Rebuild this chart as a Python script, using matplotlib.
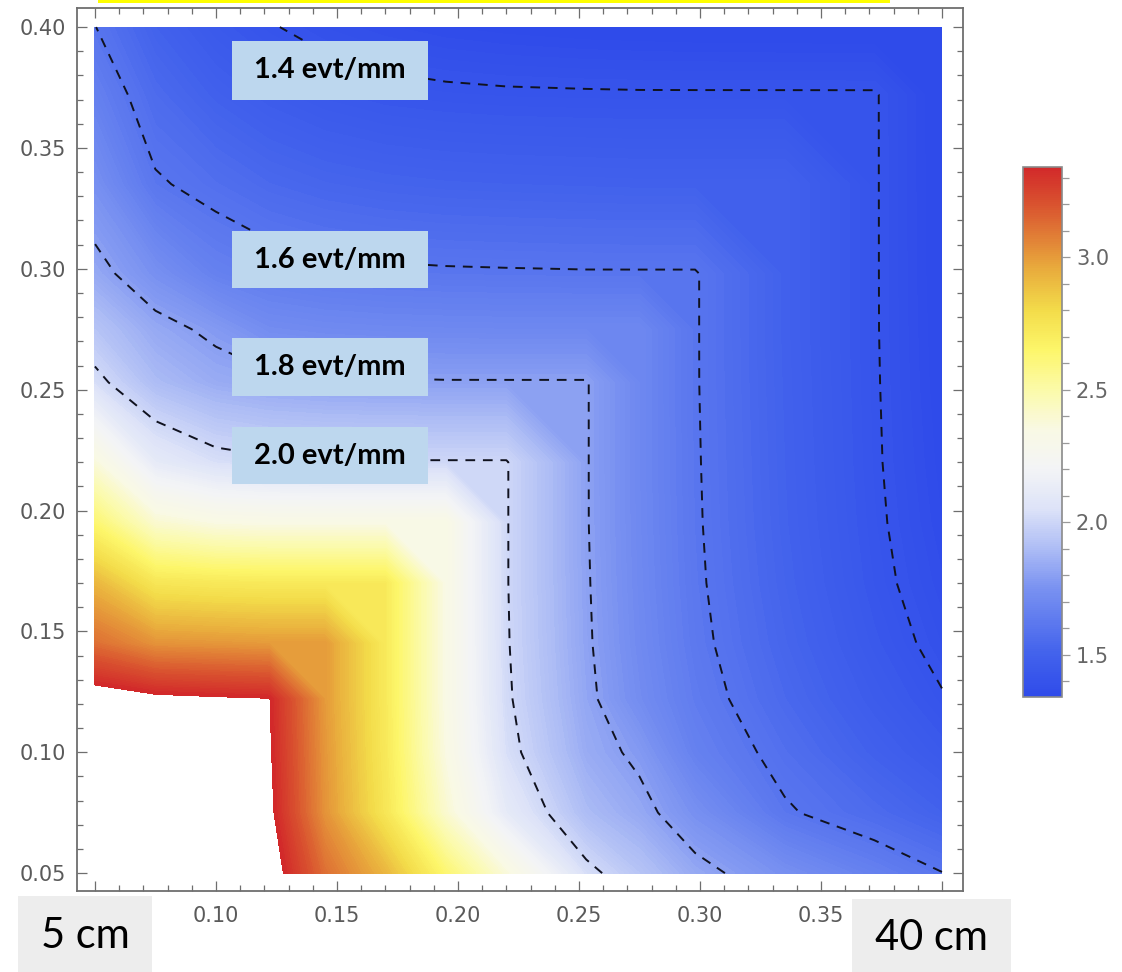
import numpy as np
import matplotlib
matplotlib.use('Agg')
import matplotlib.pyplot as plt
import matplotlib.cm as cm
from matplotlib.colors import LinearSegmentedColormap, Normalize
from matplotlib.patches import Rectangle
from matplotlib.ticker import MultipleLocator, FixedFormatter

# grille (m) sur laquelle la densité a été relevée
grid_x = [0.05, 0.075, 0.10, 0.122, 0.145, 0.17, 0.195, 0.22, 0.253, 0.275, 0.298, 0.335, 0.372, 0.40]
grid_y = [0.05, 0.075, 0.10, 0.122, 0.145, 0.17, 0.195, 0.22, 0.253, 0.275, 0.298, 0.335, 0.372, 0.40]

# densité en evt/mm, une ligne par valeur de grid_y
density = [
    [4.30, 4.00, 3.70, 3.415, 3.12, 2.92, 2.63, 2.37, 2.03, 1.93, 1.83, 1.74, 1.66, 1.602],
    [4.00, 4.00, 3.70, 3.37, 3.02, 2.74, 2.40, 2.11, 1.897, 1.83, 1.74, 1.61, 1.55, 1.50],
    [3.70, 3.70, 3.70, 3.355, 3.01, 2.725, 2.35, 2.036, 1.841, 1.78, 1.663, 1.572, 1.493, 1.44],
    [3.415, 3.37, 3.355, 3.345, 3.00, 2.72, 2.34, 2.015, 1.821, 1.723, 1.636, 1.541, 1.459, 1.405],
    [3.12, 3.02, 3.01, 3.00, 3.00, 2.72, 2.34, 2.008, 1.812, 1.711, 1.621, 1.522, 1.435, 1.379],
    [2.92, 2.74, 2.725, 2.72, 2.72, 2.72, 2.34, 2.005, 1.808, 1.705, 1.613, 1.510, 1.419, 1.362],
    [2.63, 2.40, 2.35, 2.34, 2.34, 2.34, 2.34, 2.005, 1.805, 1.702, 1.609, 1.503, 1.412, 1.35],
    [2.37, 2.11, 2.036, 2.015, 2.008, 2.005, 2.005, 2.005, 1.805, 1.70, 1.607, 1.500, 1.408, 1.343],
    [2.03, 1.897, 1.841, 1.821, 1.812, 1.808, 1.805, 1.805, 1.805, 1.70, 1.605, 1.497, 1.406, 1.337],
    [1.93, 1.83, 1.78, 1.723, 1.711, 1.705, 1.702, 1.70, 1.70, 1.70, 1.605, 1.495, 1.405, 1.335],
    [1.83, 1.74, 1.663, 1.636, 1.621, 1.613, 1.609, 1.607, 1.605, 1.605, 1.605, 1.495, 1.405, 1.333],
    [1.74, 1.61, 1.572, 1.541, 1.522, 1.510, 1.503, 1.500, 1.497, 1.495, 1.495, 1.495, 1.405, 1.332],
    [1.66, 1.55, 1.493, 1.459, 1.435, 1.419, 1.412, 1.408, 1.406, 1.405, 1.405, 1.405, 1.405, 1.331],
    [1.602, 1.50, 1.44, 1.405, 1.379, 1.362, 1.35, 1.343, 1.337, 1.335, 1.333, 1.332, 1.331, 1.33],
]

contour_levels = [1.4, 1.6, 1.8, 2.0]
contour_labels = ['1.4 evt/mm', '1.6 evt/mm', '1.8 evt/mm', '2.0 evt/mm']
scale_min, scale_max = 1.34, 3.34
axis_ticks = [0.05, 0.10, 0.15, 0.20, 0.25, 0.30, 0.35, 0.40]
# 0.05 et 0.40 sont cachés sous les cases "5 cm" / "40 cm"
x_tick_labels = ['', '0.10', '0.15', '0.20', '0.25', '0.30', '0.35', '']
y_tick_labels = ['0.05', '0.10', '0.15', '0.20', '0.25', '0.30', '0.35', '0.40']
cbar_ticks = [1.5, 2.0, 2.5, 3.0]
cbar_tick_labels = ['1.5', '2.0', '2.5', '3.0']
corner_labels = ['5 cm', '40 cm']

# palette type "TemperatureMap"
cmap_values = [1.34, 1.50, 1.75, 1.90, 2.05, 2.20, 2.35, 2.50, 2.65, 2.80, 2.95, 3.08, 3.20, 3.34]
cmap_colors = ['#2f4bea', '#4262ec', '#7a92f1', '#aebdf5', '#dde3f8', '#f3f4f6', '#f9f9e4',
               '#fbfaa9', '#fdf66a', '#f3dc4a', '#e9ae3d', '#e17e36', '#d9532f', '#d2292a']
cmap = LinearSegmentedColormap.from_list(
    'temp', [((v - scale_min) / (scale_max - scale_min), c) for v, c in zip(cmap_values, cmap_colors)])

plt.rcParams['lines.dashed_pattern'] = [5, 4]

W, H = 1122, 972
fig = plt.figure(figsize=(W / 100, H / 100), dpi=100)


def fbox(x0, y0, x1, y1):
    return [x0 / W, 1 - y1 / H, (x1 - x0) / W, (y1 - y0) / H]


ax = fig.add_axes(fbox(77, 8, 963, 891))
ax.contourf(grid_x, grid_y, density, levels=np.linspace(scale_min, scale_max, 201),
            cmap=cmap, extend='min', antialiased=False)
ax.contour(grid_x, grid_y, density, levels=contour_levels, colors='#10121f',
           linewidths=1.4, linestyles='dashed')
ax.set_xlim(0.0426, 0.4087)
ax.set_ylim(0.0426, 0.4079)

gris = '#6e6e6e'
for s in ax.spines.values():
    s.set_color(gris)
    s.set_linewidth(1.3)
ax.set_xticks(axis_ticks)
ax.set_yticks(axis_ticks)
ax.set_xticklabels(x_tick_labels)
ax.set_yticklabels(y_tick_labels)
ax.xaxis.set_minor_locator(MultipleLocator(0.01))
ax.yaxis.set_minor_locator(MultipleLocator(0.01))
ax.tick_params(which='both', direction='in', top=True, right=True, color=gris,
               labelcolor='#5a5a5a', labelsize=15, width=0.9)
ax.tick_params(which='major', length=7)
ax.tick_params(which='minor', length=4)
ax.tick_params(axis='x', pad=11)
ax.tick_params(axis='y', pad=8)

# barre de couleur
cax = fig.add_axes(fbox(1023, 167, 1062, 697))
sm = cm.ScalarMappable(norm=Normalize(scale_min, scale_max), cmap=cmap)
cb = fig.colorbar(sm, cax=cax)
cb.set_ticks(cbar_ticks)
cb.ax.yaxis.set_minor_locator(MultipleLocator(0.1))
cb.ax.yaxis.set_major_formatter(FixedFormatter(cbar_tick_labels))
cb.ax.tick_params(which='both', direction='out', color='#999999', labelcolor='#666666',
                  labelsize=15, width=0.9, pad=4)
cb.ax.tick_params(which='major', length=6)
cb.ax.tick_params(which='minor', length=5)
cb.outline.set_edgecolor('#8a8a8a')
cb.outline.set_linewidth(1.2)

# étiquettes des contours
label_boxes = [(232, 41, 428, 100), (232, 231, 428, 288), (232, 338, 428, 396), (232, 427, 428, 484)]
for txt, (x0, y0, x1, y1) in zip(contour_labels, label_boxes):
    fig.add_artist(Rectangle((x0 / W, 1 - y1 / H), (x1 - x0) / W, (y1 - y0) / H,
                             transform=fig.transFigure, facecolor='#bdd7ee',
                             edgecolor='none', zorder=5))
    fig.text((x0 + x1) / 2 / W, 1 - (y0 + y1) / 2 / H, txt, ha='center', va='center',
             fontsize=21, fontweight='bold', family='Lato', color='black', zorder=6)

# cases 5 cm / 40 cm
corner_boxes = [(18, 896, 152, 972), (852, 899, 1011, 972)]
for txt, (x0, y0, x1, y1) in zip(corner_labels, corner_boxes):
    fig.add_artist(Rectangle((x0 / W, 1 - y1 / H), (x1 - x0) / W, (y1 - y0) / H,
                             transform=fig.transFigure, facecolor='#ededed',
                             edgecolor='none', zorder=5))
    fig.text((x0 + x1) / 2 / W, 1 - ((y0 + y1) / 2 + 2) / H, txt, ha='center', va='center',
             fontsize=30, family='Lato', color='black', zorder=6)

# trait jaune en haut
fig.add_artist(Rectangle((98 / W, 1 - 3 / H), (890 - 98) / W, 3 / H,
                         transform=fig.transFigure, facecolor='#ffff00',
                         edgecolor='none', zorder=5))

fig.savefig('out.png', dpi=100)
